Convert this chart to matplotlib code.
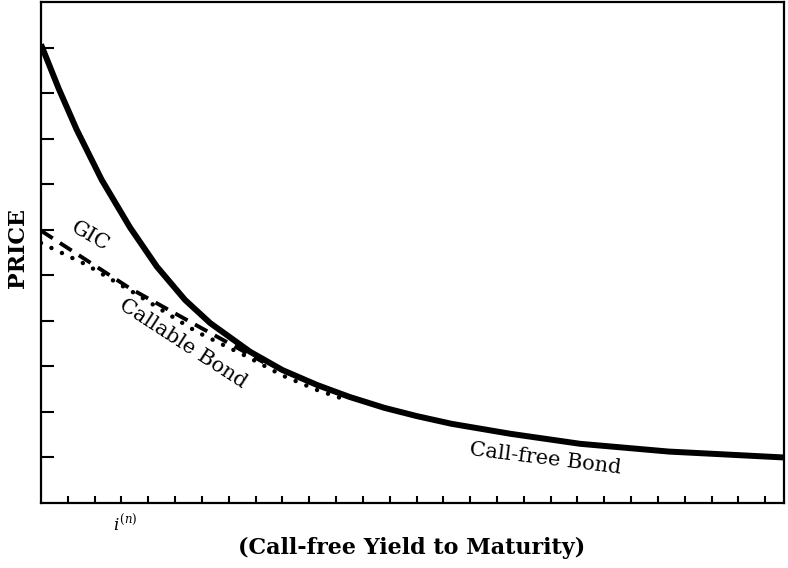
import matplotlib
matplotlib.use("Agg")
from matplotlib import pyplot as plt

# call-free yield (tick units) and price (tick units)
free_x = [0, 0.66, 1.33, 2.26, 3.32, 4.32, 5.37, 6.31, 7.8, 9.0, 10.3,
          11.5, 12.8, 14.0, 15.3, 17.5, 20.1, 23.4, 27.7]
free_y = [10.07, 9.1, 8.2, 7.1, 6.05, 5.19, 4.46, 3.95, 3.32, 2.92, 2.59,
          2.33, 2.09, 1.91, 1.74, 1.52, 1.3, 1.13, 1.0]

gic_x = [0, 3.3, 5.8, 8.3]
gic_y = [5.98, 4.72, 3.9, 3.09]

callable_x = [0, 1.7, 3.6, 5.8, 7.7, 9.0, 10.3, 11.2]
callable_y = [5.71, 5.23, 4.57, 3.76, 3.21, 2.8, 2.48, 2.3]

x_ticks = list(range(1, 28))
y_ticks = list(range(1, 11))

plt.rcParams['mathtext.fontset'] = 'dejavuserif'
serif = 'DejaVu Serif'

fig = plt.figure(figsize=(7.88, 5.68), dpi=100)
ax = fig.add_axes([0.052, 0.1144, 0.943, 0.882])

ax.plot(callable_x, callable_y, color='black', lw=3.2,
        linestyle=(0, (0.01, 2.6)), dash_capstyle='round', zorder=2)
ax.plot(gic_x, gic_y, color='black', lw=2.8,
        linestyle=(0, (3.6, 2.2)), zorder=2)
ax.plot(free_x, free_y, color='black', lw=4.3, solid_capstyle='butt',
        solid_joinstyle='round', zorder=3)

ax.set_xlim(0, 27.7)
ax.set_ylim(0, 11)
ax.set_xticks(x_ticks)
ax.set_yticks(y_ticks)
ax.set_xticklabels([])
ax.set_yticklabels([])
ax.tick_params(axis='x', direction='in', length=5, width=1.5)
ax.tick_params(axis='y', direction='in', length=9, width=1.5)
for s in ax.spines.values():
    s.set_linewidth(1.6)

ax.text(1.85, 5.85, 'GIC', rotation=-30, fontsize=15, family=serif,
        ha='center', va='center')
ax.text(5.3, 3.5, 'Callable Bond', rotation=-33, fontsize=15, family=serif,
        ha='center', va='center')
ax.text(18.8, 0.98, 'Call-free Bond', rotation=-7, fontsize=15, family=serif,
        ha='center', va='center')

fig.text(0.023, 0.563, 'PRICE', rotation=90, fontsize=16, fontweight='bold',
         family=serif, ha='center', va='center')
fig.text(0.159, 0.076, r'$i^{(n)}$', fontsize=12, ha='center', va='center')
fig.text(0.523, 0.035, '(Call-free Yield to Maturity)', fontsize=16,
         fontweight='bold', family=serif, ha='center', va='center')

fig.savefig('out.png', dpi=100)
